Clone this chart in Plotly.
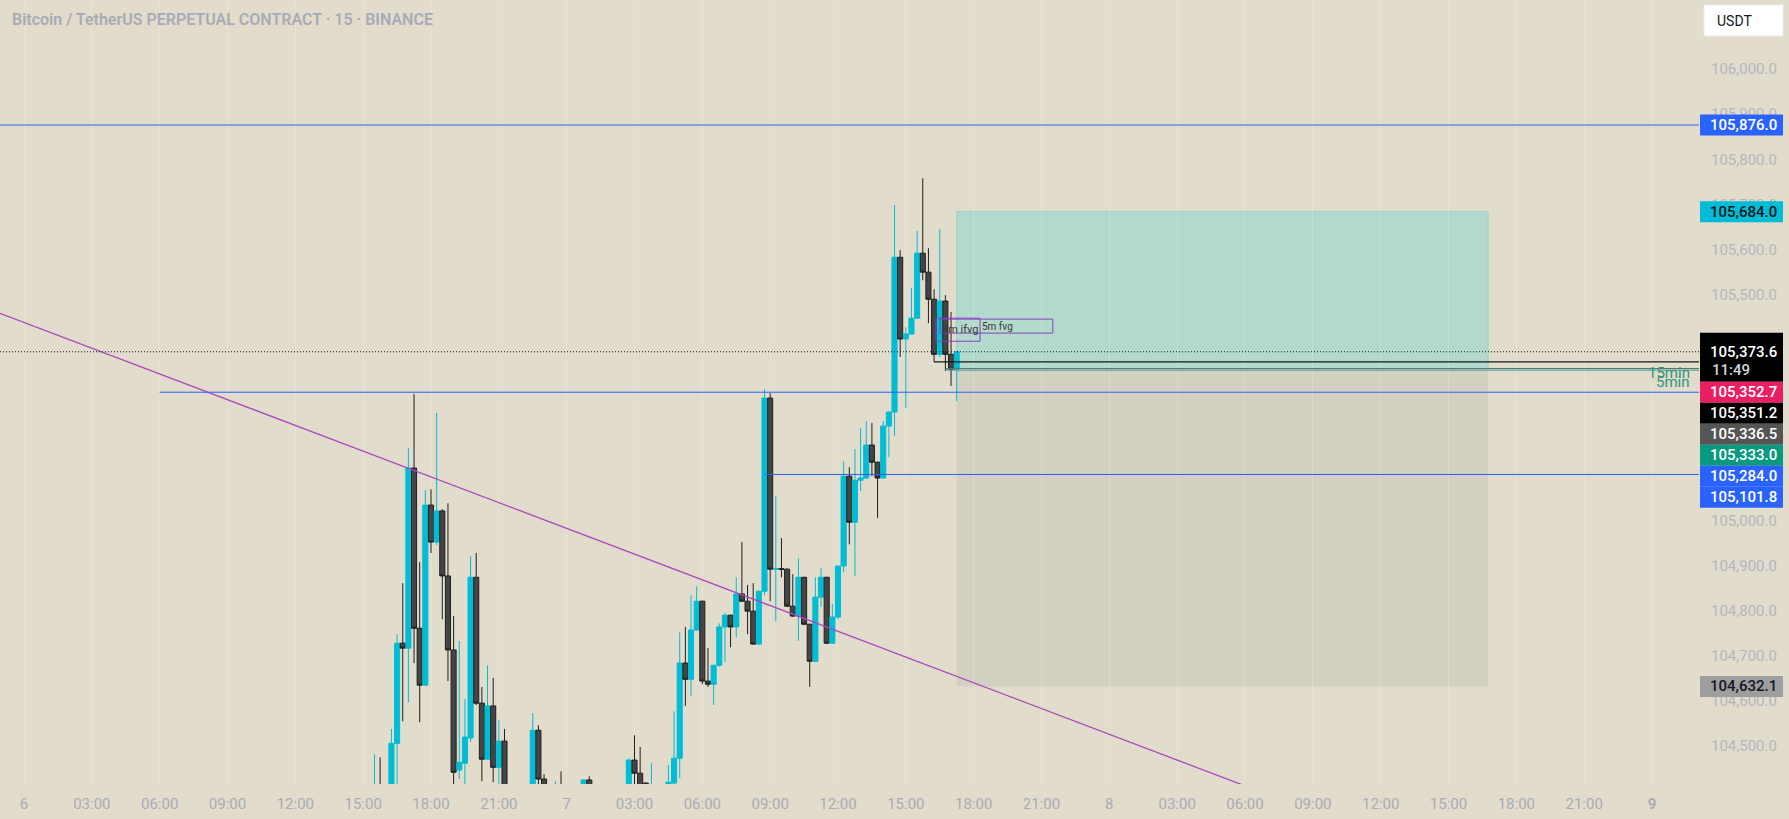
import pandas as pd
import plotly.graph_objects as go

# ---------------- data ----------------
bar_start = "2025-06-06 15:30"   # first visible 15-minute bar
opens = [104370, 104405, 104380, 104395, 104506, 104728, 104717, 105116, 104761, 104635,
         105034, 104952, 105021, 104877, 104713, 104447, 104462, 104518, 104874, 104595,
         104471, 104589, 104453, 104511, 104400, 104385, 104395, 104380, 104400, 104535,
         104427, 104400, 104395, 104410, 104395, 104400, 104392, 104400, 104425, 104400,
         104390, 104398, 104385, 104392, 104402, 104400, 104469, 104440, 104418, 104395,
         104410, 104398, 104400, 104418, 104473, 104684, 104648, 104757, 104821, 104644,
         104637, 104679, 104764, 104790, 104764, 104837, 104821, 104799, 104726, 104843,
         105271, 104892, 104893, 104892, 104810, 104788, 104874, 104770, 104688, 104830,
         104874, 104728, 104786, 104899, 105098, 104996, 105089, 105094, 105167, 105129,
         105094, 105209, 105240, 105583, 105402, 105413, 105448, 105592, 105550, 105490,
         105368, 105486, 105368, 105335]
highs = [104482, 104475, 104410, 104538, 104748, 104861, 105160, 105280, 104908, 105067,
         105069, 105238, 105025, 105038, 104788, 104733, 104604, 104921, 104928, 104631,
         104679, 104651, 104558, 104538, 104410, 104405, 104408, 104412, 104573, 104546,
         104438, 104412, 104422, 104444, 104410, 104408, 104412, 104426, 104433, 104410,
         104405, 104410, 104400, 104408, 104412, 104473, 104524, 104498, 104420, 104462,
         104414, 104410, 104458, 104577, 104752, 104764, 104834, 104854, 104822, 104717,
         104680, 104772, 104795, 104791, 104874, 104952, 104857, 104861, 104845, 105291,
         105282, 105054, 104961, 104894, 104881, 104916, 104875, 104771, 104874, 104894,
         104875, 104815, 104900, 105131, 105118, 105158, 105205, 105220, 105216, 105130,
         105220, 105241, 105699, 105599, 105428, 105515, 105641, 105758, 105603, 105512,
         105645, 105499, 105462, 105374]
lows = [104350, 104360, 104365, 104385, 104400, 104555, 104597, 104684, 104553, 104633,
        104928, 104945, 104781, 104644, 104405, 104427, 104410, 104509, 104591, 104422,
        104470, 104420, 104405, 104380, 104370, 104375, 104370, 104372, 104390, 104405,
        104390, 104390, 104385, 104385, 104385, 104380, 104385, 104390, 104390, 104385,
        104375, 104380, 104370, 104380, 104388, 104390, 104405, 104395, 104400, 104390,
        104390, 104385, 104395, 104405, 104429, 104589, 104611, 104755, 104637, 104631,
        104591, 104675, 104686, 104719, 104741, 104819, 104748, 104724, 104724, 104834,
        104821, 104777, 104874, 104808, 104786, 104733, 104768, 104631, 104686, 104808,
        104726, 104726, 104781, 104885, 104947, 104877, 105065, 105092, 105098, 105005,
        105092, 105140, 105187, 105362, 105249, 105411, 105446, 105532, 105437, 105351,
        105362, 105331, 105298, 105264]
closes = [104405, 104380, 104395, 104506, 104728, 104717, 105116, 104761, 104635, 105034,
          104952, 105021, 104877, 104713, 104442, 104464, 104520, 104874, 104595, 104471,
          104589, 104453, 104511, 104400, 104385, 104395, 104380, 104400, 104535, 104427,
          104400, 104405, 104410, 104395, 104400, 104392, 104405, 104425, 104400, 104390,
          104398, 104385, 104392, 104402, 104400, 104469, 104440, 104405, 104410, 104410,
          104398, 104400, 104420, 104473, 104684, 104648, 104757, 104821, 104644, 104637,
          104679, 104764, 104790, 104764, 104837, 104821, 104799, 104726, 104843, 105271,
          104892, 104893, 104892, 104810, 104788, 104874, 104770, 104688, 104830, 104874,
          104728, 104786, 104899, 105098, 104996, 105089, 105094, 105167, 105129, 105094,
          105209, 105240, 105583, 105402, 105413, 105448, 105592, 105550, 105490, 105368,
          105486, 105368, 105335, 105373.6]

# horizontal levels
level_top_blue = 105876.0
level_mid_blue = 105284.0
level_low_blue = 105101.8
current_price = 105373.6
level_black = 105351.2
level_pink = 105352.7
entry_price = 105336.5
level_teal = 105333.0
target_price = 105684.0
stop_price = 104632.1

# start times of the drawings
mid_blue_start = "2025-06-06 06:00"
low_blue_start = "2025-06-07 08:45"
black_start = "2025-06-07 16:15"
teal_start = "2025-06-07 16:45"
position_start = "2025-06-07 17:15"
position_end = "2025-06-08 16:45"

# trend line
trend_times = ["2025-06-05 22:56", "2025-06-08 06:00"]
trend_prices = [105459, 104412]

# FVG boxes (t0, t1, p_low, p_high)
fvg3 = ("2025-06-07 16:20", "2025-06-07 18:17", 105397, 105448)
fvg5 = ("2025-06-07 16:31", "2025-06-07 21:30", 105415, 105446)

# axes
x_range = ["2025-06-05 22:56:17", "2025-06-09 02:04:48"]
y_range = [104416, 106153]
x_ticks = list(pd.date_range("2025-06-06", "2025-06-09", freq="3h"))
x_ticktext = [(f"<b>{t.day}</b>" if t.day == 9 else str(t.day)) if t.hour == 0 else f"{t.hour:02d}:00"
              for t in x_ticks]
y_ticks = list(range(104500, 106001, 100))
y_ticktext = [f"{v:,.1f}" for v in y_ticks]

# right-scale price labels: (price, background, text colour, countdown)
price_labels = [
    (level_top_blue, "#2962ff", "#ffffff", None),
    (target_price, "#00bcd4", "#131722", None),
    (current_price, "#000000", "#ffffff", "11:49"),
    (level_pink, "#e91e63", "#ffffff", None),
    (level_black, "#000000", "#ffffff", None),
    (entry_price, "#555555", "#ffffff", None),
    (level_teal, "#089981", "#ffffff", None),
    (level_mid_blue, "#2962ff", "#ffffff", None),
    (level_low_blue, "#2962ff", "#ffffff", None),
    (stop_price, "#9e9e9e", "#131722", None),
]

# ---------------- layout geometry ----------------
W, H = 1789, 819
ML, MR, MT, MB = 0, 90, 0, 35
PW, PH = W - ML - MR, H - MT - MB
BG = "#e1dccb"


def px_x(px):
    return px / PW


def px_y(py):
    return 1 - py / PH


def price_to_py(p):
    return (y_range[1] - p) / (y_range[1] - y_range[0]) * PH


times = pd.date_range(bar_start, periods=len(opens), freq="15min")

fig = go.Figure()

fig.add_trace(go.Candlestick(
    x=times, open=opens, high=highs, low=lows, close=closes,
    increasing=dict(line=dict(color="#00bcd4", width=1), fillcolor="#00bcd4"),
    decreasing=dict(line=dict(color="#1f1f1f", width=1), fillcolor="#454545"),
    whiskerwidth=0, showlegend=False, hoverinfo="skip"))

fig.add_trace(go.Scatter(x=trend_times, y=trend_prices, mode="lines",
                         line=dict(color="#ab47bc", width=1.3), showlegend=False, hoverinfo="skip"))

shapes = []
# position tool
shapes.append(dict(type="rect", xref="x", yref="y", x0=position_start, x1=position_end,
                   y0=entry_price, y1=target_price, fillcolor="#b3d9cc",
                   line=dict(color="#8fd3cc", width=1), layer="below"))
shapes.append(dict(type="rect", xref="x", yref="y", x0=position_start, x1=position_end,
                   y0=stop_price, y1=entry_price, fillcolor="#d4d0c1",
                   line=dict(width=0), layer="below"))


def hline(y, x0, color, width=1, dash="solid"):
    shapes.append(dict(type="line", xref="x", yref="y", x0=x0, x1=x_range[1], y0=y, y1=y,
                       line=dict(color=color, width=width, dash=dash), layer="above"))


hline(level_top_blue, x_range[0], "#2962ff")
hline(level_mid_blue, mid_blue_start, "#2962ff")
hline(level_low_blue, low_blue_start, "#2962ff")
hline(current_price, x_range[0], "#131722", 1, "1px,2px")
hline(level_black, black_start, "#131722", 1.3)
hline(entry_price, teal_start, "#6b6b6b", 1)
hline(level_teal, teal_start, "#26a69a", 1)

for (t0, t1, p0, p1) in (fvg3, fvg5):
    shapes.append(dict(type="rect", xref="x", yref="y", x0=t0, x1=t1, y0=p0, y1=p1,
                       line=dict(color="#8a3fc0", width=1), fillcolor="rgba(0,0,0,0)", layer="above"))

annotations = []
annotations.append(dict(x=fvg5[0], y=(fvg3[2] + fvg3[3]) / 2, xref="x", yref="y", text="3m ifvg",
                        showarrow=False, xanchor="left", yanchor="middle",
                        font=dict(family="Roboto", size=11, color="#3a3a3a")))
annotations.append(dict(x=fvg3[1], y=(fvg5[2] + fvg5[3]) / 2, xref="x", yref="y", text="5m fvg",
                        showarrow=False, xanchor="left", yanchor="middle",
                        font=dict(family="Roboto", size=10, color="#3a3a3a")))
annotations.append(dict(x=px_x(1692), y=level_teal, xref="paper", yref="y", text="15min",
                        showarrow=False, xanchor="right", yanchor="middle", yshift=-3,
                        font=dict(family="Roboto", size=15, color="#2f9680")))
annotations.append(dict(x=px_x(1692), y=level_teal, xref="paper", yref="y", text="5min",
                        showarrow=False, xanchor="right", yanchor="middle", yshift=-12,
                        font=dict(family="Roboto", size=15, color="#2f9680")))

# title
annotations.append(dict(x=px_x(10), y=px_y(19.5), xref="paper", yref="paper",
                        text="Bitcoin / TetherUS PERPETUAL CONTRACT · 15 · BINANCE",
                        showarrow=False, xanchor="left", yanchor="middle",
                        font=dict(family="Roboto", size=16, color="#a8aab6", weight=600)))

# USDT box
shapes.append(dict(type="rect", xref="paper", yref="paper", x0=px_x(1704), x1=px_x(1783),
                   y0=px_y(36), y1=px_y(5), fillcolor="#ffffff", line=dict(color="#ececec", width=1),
                   layer="above"))
annotations.append(dict(x=px_x(1715), y=px_y(20.5), xref="paper", yref="paper", text="USDT",
                        showarrow=False, xanchor="left", yanchor="middle",
                        font=dict(family="Roboto", size=14, color="#131722")))

# stacked price labels on the right scale
prev_bottom = -1e9
for price, bg, fg, countdown in sorted(price_labels, key=lambda r: -r[0]):
    py = price_to_py(price)
    if countdown:
        h, anchor = 49, 19
    else:
        h, anchor = 21, 10.5
    top = max(py - anchor, prev_bottom)
    prev_bottom = top + h
    shapes.append(dict(type="rect", xref="paper", yref="paper", x0=px_x(1700), x1=px_x(1783),
                       y0=px_y(top + h), y1=px_y(top), fillcolor=bg, line=dict(width=0), layer="above"))
    annotations.append(dict(x=px_x(1779), y=px_y(top + anchor), xref="paper", yref="paper",
                            text=f"{price:,.1f}", showarrow=False, xanchor="right", yanchor="middle",
                            font=dict(family="Roboto", size=15, color=fg, weight=500)))
    if countdown:
        annotations.append(dict(x=px_x(1710), y=px_y(top + 37.5), xref="paper", yref="paper",
                                text=countdown, showarrow=False, xanchor="left", yanchor="middle",
                                font=dict(family="Roboto", size=15, color="#d1d4dc", weight=500)))

fig.update_layout(
    width=W, height=H,
    margin=dict(l=ML, r=MR, t=MT, b=MB, pad=0),
    paper_bgcolor=BG, plot_bgcolor=BG,
    boxgap=0.1, boxgroupgap=0,
    shapes=shapes, annotations=annotations,
    showlegend=False,
    xaxis=dict(type="date", range=x_range, rangeslider=dict(visible=False),
               tickmode="array", tickvals=x_ticks, ticktext=x_ticktext,
               showgrid=True, gridcolor="rgba(255,255,255,0.18)", gridwidth=1,
               zeroline=False, showline=False, ticks="", ticklabelstandoff=9,
               tickfont=dict(family="Roboto", size=15, color="#a9abb6")),
    yaxis=dict(side="right", range=y_range, tickmode="array", tickvals=y_ticks, ticktext=y_ticktext,
               showgrid=False, zeroline=False, showline=False, ticks="",
               ticklabelstandoff=11,
               tickfont=dict(family="Roboto", size=15, color="#b4b6bd")),
)

fig.write_html("out.html")
